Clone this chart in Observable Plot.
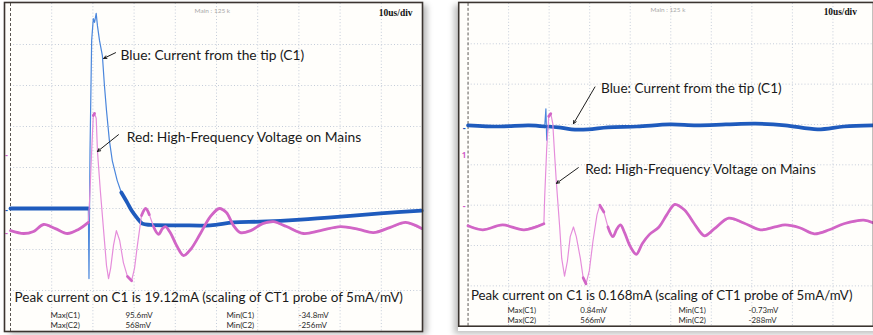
<!DOCTYPE html>
<html><head><meta charset="utf-8">
<script src="https://cdn.jsdelivr.net/npm/d3@7"></script>
<script src="https://cdn.jsdelivr.net/npm/@observablehq/plot@0.6"></script>
<style>
html,body{margin:0;padding:0;background:#fff;}
#wrap{position:relative;width:873px;height:335px;overflow:hidden;background:#fff;}
.panel{position:absolute;top:0;}
.shadow{position:absolute;background:#fff;}
</style></head><body>
<div id="wrap">
  <div class="shadow" style="left:4px;top:2px;width:418px;height:329px;box-shadow:5px 3px 6px rgba(0,0,0,0.28)"></div>
  <div class="shadow" style="left:458px;top:2px;width:430px;height:329px;box-shadow:-4px 3px 6px rgba(0,0,0,0.25)"></div>
  <div id="left" class="panel" style="left:0"></div>
  <div id="right" class="panel" style="left:440px"></div>
</div>
<script>
// ---- grid (10 us/div horizontally, 8 vertical divisions) ----
const timeGridUs = [10, 20, 30, 40, 50, 60, 70, 80, 90];
const voltGridDiv = [-3, -2, -1, 0, 1, 2, 3];

// ---- left capture: time (us) and level (divisions) ----
const leftBlueT = [0, 18.9, 19.05, 19.3, 19.7, 20.1, 20.4, 20.8, 21.1, 21.6, 22.3, 22.8, 23.3, 24.0, 24.7, 25.9, 26.9, 28.3, 29.4, 30.8, 32.0, 34.0, 41.3, 48.5, 54.1, 60.7, 70.4, 80.1, 89.8, 99.8];
const leftBlueV = [-1.00, -1.00, -2.71, 0.41, 3.10, 3.63, 3.54, 3.76, 3.46, 3.10, 2.73, 2.00, 1.39, 0.66, 0.17, -0.32, -0.61, -0.85, -1.05, -1.24, -1.37, -1.40, -1.41, -1.41, -1.34, -1.32, -1.27, -1.20, -1.12, -1.05];
const leftRedT = [0, 3.2, 5.6, 8.0, 10.9, 13.8, 16.5, 18.9, 19.2, 19.7, 20.1, 20.4, 20.8, 21.1, 21.8, 22.6, 23.3, 23.8, 24.3, 25.0, 25.7, 26.5, 27.4, 28.4, 29.4, 30.1, 30.8, 31.8, 32.8, 33.7, 34.7, 35.9, 36.9, 37.6, 38.8, 40.3, 42.0, 43.7, 46.1, 48.5, 50.7, 52.4, 54.1, 55.8, 58.3, 61.2, 63.8, 67.0, 71.1, 75.2, 80.1, 84.5, 88.1, 92.2, 95.9, 99.8];
const leftRedV = [-1.54, -1.61, -1.56, -1.39, -1.49, -1.61, -1.51, -1.34, -0.80, 0.41, 1.27, 1.32, 1.20, 0.41, -0.56, -1.54, -2.39, -2.71, -2.46, -1.90, -1.54, -1.78, -2.32, -2.66, -2.76, -2.46, -1.90, -1.17, -1.00, -1.15, -1.44, -1.63, -1.49, -1.44, -1.59, -1.90, -2.15, -2.00, -1.61, -1.20, -1.00, -1.10, -1.41, -1.59, -1.54, -1.37, -1.32, -1.44, -1.61, -1.54, -1.44, -1.51, -1.59, -1.46, -1.34, -1.49];

// ---- right capture ----
const rightBlueT = [0, 7.8, 15.0, 18.9, 19.2, 19.4, 19.7, 22.3, 25.5, 29.6, 34.5, 41.7, 49.8, 56.3, 63.6, 70.9, 78.2, 86.2, 92.7, 100];
const rightBlueV = [0.98, 0.95, 0.98, 0.95, 1.39, 0.61, 0.95, 0.93, 0.88, 0.88, 0.93, 0.95, 1.00, 0.98, 1.00, 1.02, 0.98, 0.88, 0.95, 0.98];
const rightRedT = [0, 3.6, 8.5, 13.8, 18.7, 18.9, 19.4, 19.9, 20.4, 20.9, 21.4, 21.8, 22.6, 23.1, 23.8, 24.5, 25.2, 26.0, 26.7, 27.7, 28.4, 29.1, 29.9, 30.8, 31.8, 32.5, 33.5, 34.5, 35.7, 36.7, 37.6, 38.6, 40.0, 41.5, 43.0, 44.7, 47.1, 49.0, 51.0, 53.4, 55.8, 58.3, 60.7, 64.3, 68.0, 72.1, 75.7, 78.2, 81.8, 85.4, 89.1, 92.7, 97.6, 100];
const rightRedV = [-1.51, -1.61, -1.49, -1.61, -1.46, -0.80, 0.41, 1.20, 1.27, 1.02, 0.17, -0.46, -1.54, -2.32, -2.76, -2.39, -1.78, -1.54, -1.78, -2.32, -2.80, -2.95, -2.63, -1.90, -1.24, -1.00, -1.17, -1.54, -1.78, -1.59, -1.49, -1.68, -2.02, -2.22, -1.95, -1.73, -1.54, -1.24, -0.98, -1.12, -1.46, -1.76, -1.59, -1.32, -1.44, -1.61, -1.54, -1.49, -1.56, -1.71, -1.61, -1.46, -1.37, -1.44];

// ---- texts ----
const mainLabel = "Main : 125 k";
const timebaseLabel = "10us/div";
const blueLabel = "Blue: Current from the tip (C1)";
const redLabel = "Red: High-Frequency Voltage on Mains";
const leftPeakText = "Peak current on C1 is 19.12mA (scaling of CT1 probe of 5mA/mV)";
const rightPeakText = "Peak current on C1 is 0.168mA (scaling of CT1 probe of 5mA/mV)";
const maxNames = ["Max(C1)", "Max(C2)"];
const minNames = ["Min(C1)", "Min(C2)"];
const leftMaxValues = ["95.6mV", "568mV"];
const leftMinValues = ["-34.8mV", "-256mV"];
const rightMaxValues = ["0.84mV", "566mV"];
const rightMinValues = ["-0.73mV", "-288mV"];

const W = 440, H = 335, MT = 3, MB = 4;
const FONT = "Lato, 'Open Sans', sans-serif";

// split a trace into the full thin path and the slowly varying runs (drawn thick, like the noise band)
function traceParts(T, V, kx, ky, thr) {
  const pts = T.map((t, i) => ({t, v: V[i]}));
  const runs = [];
  let open = false, id = 0;
  for (let i = 1; i < T.length; i++) {
    const s = Math.abs((V[i] - V[i - 1]) * ky) / Math.max((T[i] - T[i - 1]) * kx, 0.01);
    if (s < thr) {
      if (!open) { open = true; id++; runs.push({t: T[i - 1], v: V[i - 1], run: id}); }
      runs.push({t: T[i], v: V[i], run: id});
    } else open = false;
  }
  return {pts, runs};
}

function panel(cfg) {
  const kx = (W - cfg.ml - cfg.mr) / 100, ky = (H - MT - MB) / 8;
  const blue = traceParts(cfg.blueT, cfg.blueV, kx, ky, 2.5);
  const red = traceParts(cfg.redT, cfg.redV, kx, ky, 2.5);
  const c = (v) => () => v;
  const A = cfg.ann;
  const rowV = (d, i) => [-3.61, -3.855][i];
  return Plot.plot({
    width: W, height: H,
    marginLeft: cfg.ml, marginRight: cfg.mr, marginTop: MT, marginBottom: MB,
    x: {domain: [0, 100], axis: null},
    y: {domain: [-4, 4], axis: null},
    style: {background: "transparent", overflow: "visible"},
    marks: [
      Plot.frame({fill: "#fffefb", stroke: null, insetLeft: cfg.frameInset, insetTop: -1}),
      Plot.ruleX(timeGridUs, {stroke: "#c4ccd9", strokeDasharray: "1,2.2", strokeWidth: 1}),
      Plot.ruleY(voltGridDiv, {stroke: "#c4ccd9", strokeDasharray: "1,2.2", strokeWidth: 1}),
      Plot.ruleX([0], {stroke: "#5a5652", strokeDasharray: "3,2", strokeWidth: 1}),
      Plot.text(["-"], {x: c(0), y: c(A.markBlue), dx: -4, fill: "#1c56b8", fontSize: 9, fontWeight: "bold"}),
      Plot.text(["-"], {x: c(0), y: c(A.markRed), dx: -4, fill: "#d060c8", fontSize: 9, fontWeight: "bold"}),
      Plot.text([A.markRedTxt], {x: c(0), y: c(A.markRed2), dx: -4, fill: "#d060c8", fontSize: 8, fontWeight: "bold"}),
      // C1 (blue)
      Plot.line(blue.pts, {x: "t", y: "v", stroke: "#4a86dc", strokeWidth: 1.2, strokeLinejoin: "round"}),
      Plot.line(blue.runs, {x: "t", y: "v", z: "run", stroke: "#1f5bbd", strokeWidth: 3.8, curve: "catmull-rom", strokeLinecap: "round"}),
      // C2 (magenta)
      Plot.line(red.pts, {x: "t", y: "v", stroke: "#e58ddb", strokeWidth: 1.2, strokeLinejoin: "round"}),
      Plot.line(red.runs, {x: "t", y: "v", z: "run", stroke: "#d165c6", strokeWidth: 2.8, curve: "catmull-rom", strokeLinecap: "round"}),
      Plot.text([mainLabel], {x: c(A.mainT), y: c(3.83), fill: "#a8a8a8", fontSize: 6.5, fontFamily: FONT}),
      Plot.text([timebaseLabel], {x: c(A.tbT), y: c(3.78), textAnchor: "end", fill: "#111", fontSize: 9.5, fontWeight: "bold", fontFamily: "'Liberation Serif', serif"}),
      Plot.text([blueLabel], {x: c(A.blueT), y: c(A.blueV), textAnchor: "start", fill: "#1a1a1a", fontSize: 13.8, fontFamily: FONT}),
      Plot.text([redLabel], {x: c(A.redT), y: c(A.redV), textAnchor: "start", fill: "#1a1a1a", fontSize: 13.8, fontFamily: FONT}),
      Plot.arrow([0], {x1: c(A.ba[0]), y1: c(A.ba[1]), x2: c(A.ba[2]), y2: c(A.ba[3]), stroke: "#1a1a1a", strokeWidth: 1, headLength: 5, headAngle: 50}),
      Plot.arrow([0], {x1: c(A.ra[0]), y1: c(A.ra[1]), x2: c(A.ra[2]), y2: c(A.ra[3]), stroke: "#1a1a1a", strokeWidth: 1, headLength: 5, headAngle: 50}),
      Plot.text([cfg.peak], {x: c(A.peakT), y: c(A.peakV), textAnchor: "start", fill: "#1a1a1a", fontSize: 13.5, fontFamily: FONT}),
      Plot.text(maxNames, {x: c(9.7), y: rowV, textAnchor: "start", fill: "#2a2a2a", fontSize: 8, fontFamily: FONT}),
      Plot.text(cfg.maxV, {x: c(A.col2), y: rowV, textAnchor: "start", fill: "#2a2a2a", fontSize: 8, fontFamily: FONT}),
      Plot.text(minNames, {x: c(A.col3), y: rowV, textAnchor: "start", fill: "#2a2a2a", fontSize: 8, fontFamily: FONT}),
      Plot.text(cfg.minV, {x: c(A.col4), y: rowV, textAnchor: "start", fill: "#2a2a2a", fontSize: 8, fontFamily: FONT}),
      Plot.frame({stroke: "#3b3430", strokeWidth: 1.6, insetLeft: cfg.frameInset, insetTop: -1})
    ]
  });
}

document.getElementById("left").append(panel({
  ml: 10, mr: 18, frameInset: -6,
  blueT: leftBlueT, blueV: leftBlueV, redT: leftRedT, redV: leftRedV,
  peak: leftPeakText, maxV: leftMaxValues, minV: leftMinValues,
  ann: {
    markBlue: -1.05, markRed: -1.6, markRed2: 0.29, markRedTxt: "-",
    mainT: 49, tbT: 97.6,
    blueT: 26.7, blueV: 2.73, redT: 28.2, redV: 0.73,
    ba: [25.5, 2.80, 22.6, 2.66], ra: [26.2, 0.80, 21.1, 0.39],
    peakT: 1.0, peakV: -3.17, col2: 27.9, col3: 52.4, col4: 69.9
  }
}));
document.getElementById("right").append(panel({
  ml: 28, mr: 0, frameInset: -9.5,
  blueT: rightBlueT, blueV: rightBlueV, redT: rightRedT, redV: rightRedV,
  peak: rightPeakText, maxV: rightMaxValues, minV: rightMinValues,
  ann: {
    markBlue: 0.9, markRed: -1.02, markRed2: 0.24, markRedTxt: "1",
    mainT: 49.3, tbT: 95.9,
    blueT: 32.8, blueV: 1.90, redT: 28.9, redV: -0.12,
    ba: [31.3, 1.93, 26.0, 1.02], ra: [27.2, -0.07, 21.8, -0.46],
    peakT: 0.7, peakV: -3.24, col2: 27.7, col3: 51.9, col4: 69.2
  }
}));
</script>
</body></html>
